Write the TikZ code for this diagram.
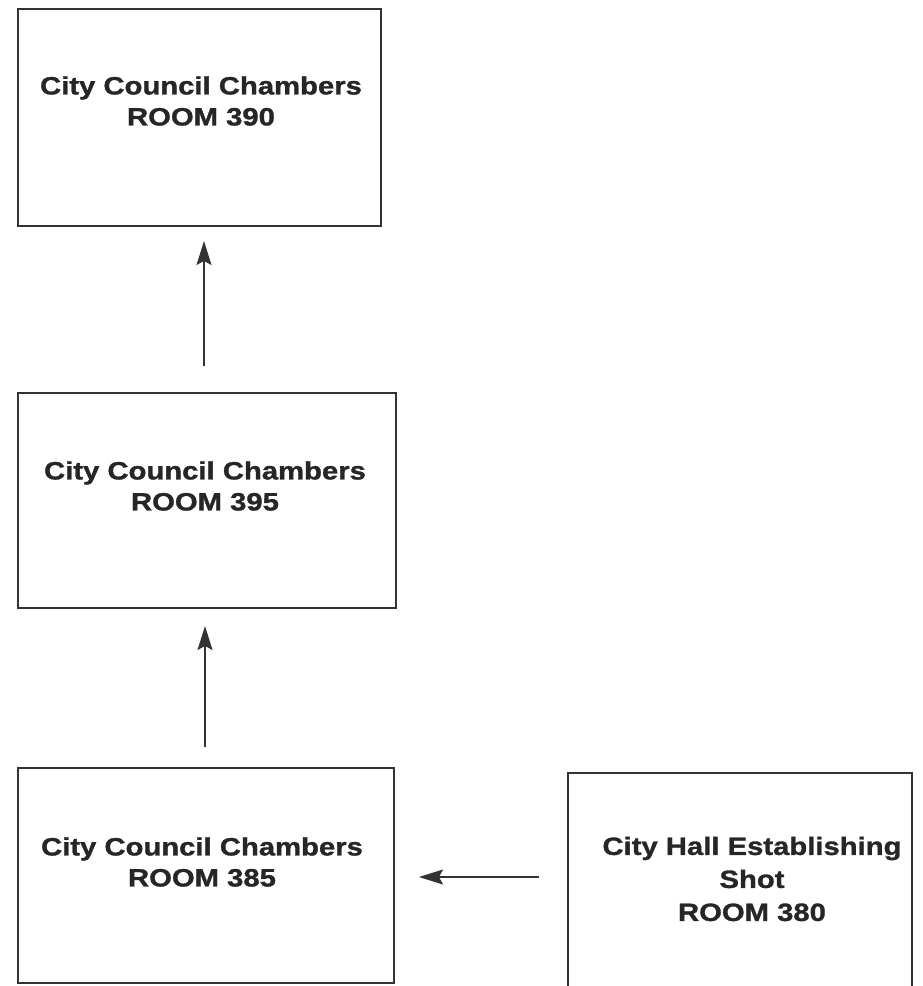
\documentclass[tikz,border=0pt]{standalone}
\usepackage{fontspec}
\setmainfont{Liberation Sans}[FakeStretch=1.17, BoldFeatures={FakeStretch=1.17,FakeBold=1.2}]
\usetikzlibrary{arrows.meta}
\begin{document}
\begin{tikzpicture}[x=1pt,y=-1pt,
  room/.style={draw=black!80, line width=2pt, inner sep=0pt},
  roomtext/.style={font=\fontsize{25}{31}\selectfont\bfseries, align=center, text=black!85, inner sep=0pt},
  flow/.style={draw=black!80, line width=1.5pt, -{Stealth[length=24pt,width=15pt,inset=4pt]}}]
\useasboundingbox (0,0) rectangle (923,986);
\clip (0,0) rectangle (923,986);
% boxes
\node[room, minimum width=363pt, minimum height=217pt] (r390) at (199.5,117.5) {};
\node[room, minimum width=378pt, minimum height=215pt] (r395) at (207,500.5) {};
\node[room, minimum width=376pt, minimum height=215pt] (r385) at (206,875.5) {};
\node[room, minimum width=344pt, minimum height=240pt] (r380) at (740,893) {};
% texts
\node[roomtext] (t390) at (201,101) {City Council Chambers\\ROOM 390};
\node[roomtext] (t395) at (205,486) {City Council Chambers\\ROOM 395};
\node[roomtext] (t385) at (202,862) {City Council Chambers\\ROOM 385};
\node[roomtext, font=\fontsize{25}{33}\selectfont\bfseries] (t380) at (752,879) {City Hall Establishing\\Shot\\ROOM 380};
% connectors
\draw[flow, shorten <=26pt, shorten >=14pt] ([xshift=-3pt]r395.north) -- ([xshift=-3pt]r395.north |- r390.south);
\draw[flow, shorten <=20pt, shorten >=17pt] ([xshift=-1pt]r385.north) -- ([xshift=-1pt]r385.north |- r395.south);
\draw[flow, shorten <=28pt, shorten >=24pt] (r380.west |- 0,877) -- (r385.east |- 0,877);
\end{tikzpicture}
\end{document}
